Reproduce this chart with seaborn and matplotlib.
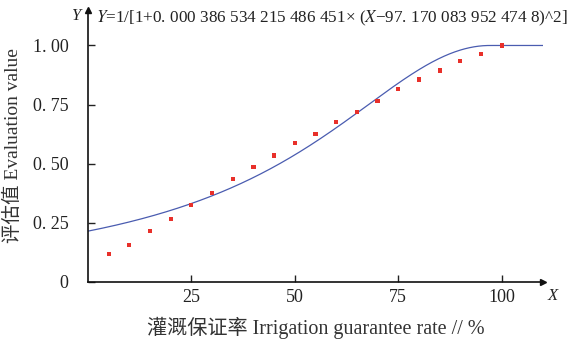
import numpy as np
import pandas as pd
import matplotlib
matplotlib.use("Agg")
import matplotlib.pyplot as plt
import seaborn as sns

# ---- data ----
rate = [5, 10, 15, 20, 25, 30, 35, 40, 45, 50, 55, 60, 65, 70, 75, 80, 85, 90, 95, 100]
evaluation = [0.119, 0.157, 0.217, 0.266, 0.326, 0.375, 0.436, 0.486, 0.535, 0.587,
              0.627, 0.677, 0.717, 0.764, 0.815, 0.856, 0.894, 0.935, 0.965, 1.0]

# fitted model parameters (as printed in the chart)
coef_a = 0.000386534215486451
coef_x0 = 97.1700839524748
curve_x_max = 110

x_ticks = [25, 50, 75, 100]
x_ticklabels = ["25", "50", "75", "100"]
y_ticks = [0, 0.25, 0.5, 0.75, 1.0]
y_ticklabels = ["0", "0. 25", "0. 50", "0. 75", "1. 00"]

equation = "=1/[1+0. 000 386 534 215 486 451× ("
equation2 = "−97. 170 083 952 474 8)^2]"
xlabel = "灌溉保证率 Irrigation guarantee rate // %"
ylabel = "评估值 Evaluation value"

# ---- build curve table ----
cx = np.linspace(0, curve_x_max, 600)
cy = np.where(cx <= coef_x0, 1.0 / (1.0 + coef_a * (cx - coef_x0) ** 2), 1.0)
curve = pd.DataFrame({"x": cx, "y": cy})
pts = pd.DataFrame({"x": rate, "y": evaluation})

sns.set_theme(style="ticks")
plt.rcParams["font.family"] = ["Liberation Serif", "Noto Sans CJK SC"]
plt.rcParams["mathtext.fontset"] = "stix"

fig = plt.figure(figsize=(5.76, 3.42), dpi=100)
ax = fig.add_axes([88 / 576, 1 - 282 / 342, (543 - 88) / 576, (282 - 10) / 342])

sns.lineplot(data=curve, x="x", y="y", ax=ax, color="#4a5cb0", linewidth=0.9)
sns.scatterplot(data=pts, x="x", y="y", ax=ax, color="#e8302a", marker="s",
                s=9, edgecolor="none", zorder=3)

ax.set_xlim(0, curve_x_max)
ax.set_ylim(0, 1.15)
ax.set_xticks(x_ticks)
ax.set_xticklabels(x_ticklabels)
ax.set_yticks(y_ticks)
ax.set_yticklabels(y_ticklabels)
ax.tick_params(axis="both", direction="in", length=5, width=1, labelsize=13, colors="#222222")
ax.tick_params(axis="y", pad=14)
ax.tick_params(axis="x", pad=5)
for s in ["top", "right"]:
    ax.spines[s].set_visible(False)
for s in ["left", "bottom"]:
    ax.spines[s].set_linewidth(1.2)
    ax.spines[s].set_color("#111111")

# arrow heads
ax.plot(1, 0, ">", color="#111111", markersize=5, transform=ax.get_yaxis_transform(), clip_on=False)
ax.plot(0, 1, "^", color="#111111", markersize=5, transform=ax.get_xaxis_transform(), clip_on=False)

ax.set_xlabel(xlabel, fontsize=14.5, color="#333333", labelpad=8)
ax.set_ylabel(ylabel, fontsize=14, color="#333333", labelpad=8)

# axis end letters
fig.text(548 / 576, 1 - 296 / 342, "X", fontsize=12, style="italic", ha="left", va="center", color="#222222")
fig.text(76 / 576, 1 - 16 / 342, "Y", fontsize=12, style="italic", ha="center", va="center", color="#222222")

# equation
fig.text(96 / 576, 1 - 18 / 342,
         r"$\mathit{Y}$" + equation + r"$\mathit{X}$" + equation2,
         fontsize=12.3, ha="left", va="center", color="#222222")

fig.savefig("out.png", dpi=100, facecolor="white")
